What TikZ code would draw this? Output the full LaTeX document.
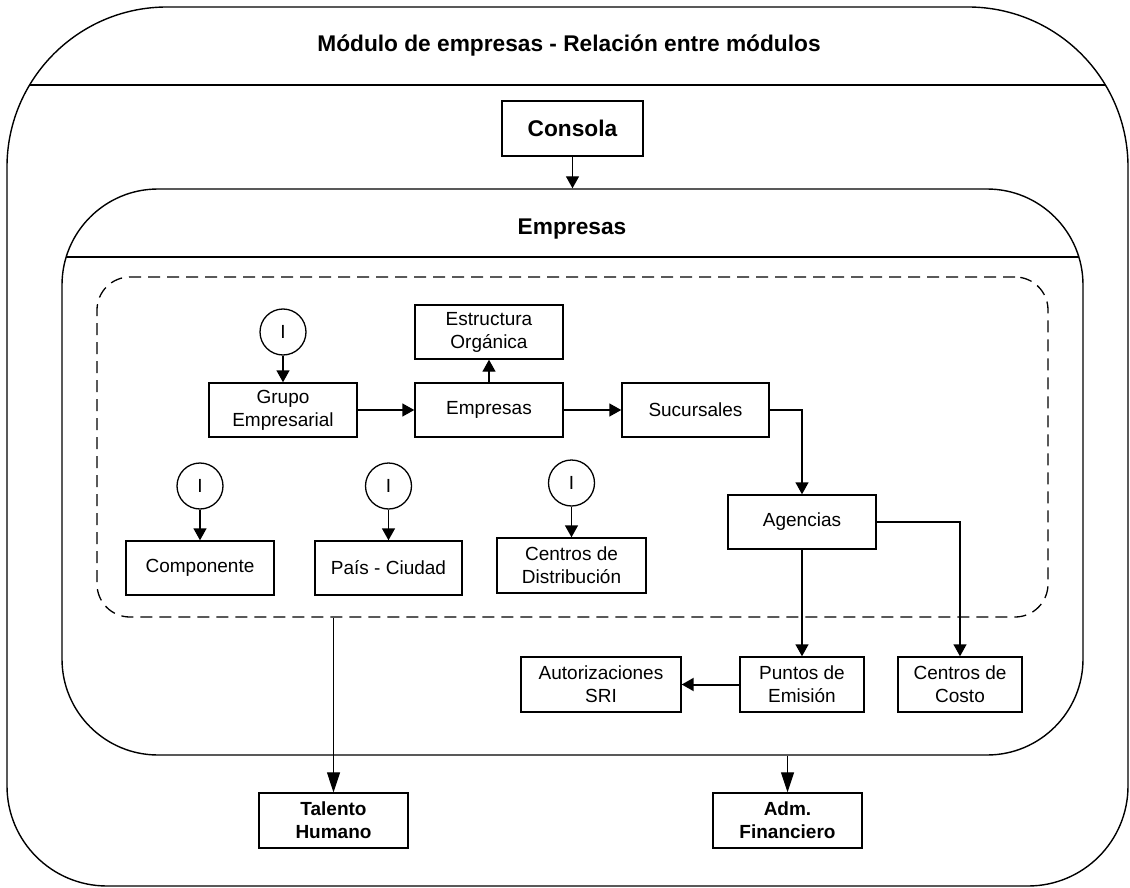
\documentclass[tikz,border=0pt]{standalone}
\usepackage{fontspec}
\setmainfont{Liberation Sans}
\usetikzlibrary{arrows.meta}

\begin{document}
\begin{tikzpicture}[x=1pt,y=-1pt,
  frame/.style={line width=1.4pt},
  box/.style={draw, line width=1.4pt, align=center, inner sep=0pt,
    font=\fontsize{19}{23}\selectfont},
  boldbox/.style={box, font=\fontsize{19}{23}\selectfont\bfseries},
  iface/.style={draw, circle, line width=1.3pt, minimum size=46pt, inner sep=0pt,
    font=\fontsize{19}{23}\selectfont},
  title/.style={font=\fontsize{22.7}{26}\selectfont\bfseries},
  link/.style={line width=1.4pt, -{Triangle[length=12pt,width=13pt]}},
  thinlink/.style={line width=1.1pt, -{Triangle[length=20pt,width=13pt]}}
]
\useasboundingbox (0,0) rectangle (1130,888);

% outer module frame: wide top corners, tighter bottom corners
\draw[frame] (7,450) [rounded corners=160pt] -- (7,7) -- (1128,7) -- (1128,450)
  [rounded corners=100pt] -- (1128,886) -- (7,886) -- cycle;
\draw[frame] (29.6,85) -- (1105.4,85);
\node[title] (ttl) at (569,46) {Módulo de empresas - Relación entre módulos};

% inner companies module
\node[draw, line width=1.4pt, rounded corners=96pt, minimum width=1021pt,
  minimum height=566pt, inner sep=0pt] (inner) at (572.5,472) {};
\draw[frame] (66.2,257) -- (1078.8,257);
\node[title] (emptitle) at (572,229) {Empresas};

% dashed grouping
\node[draw, line width=1.3pt, dash pattern=on 12pt off 7pt, rounded corners=33pt,
  minimum width=951pt, minimum height=340pt, inner sep=0pt] (group) at (572.5,447) {};

% console
\node[boldbox, font=\fontsize{22.7}{26}\selectfont\bfseries, minimum width=141pt,
  minimum height=55pt] (consola) at (572.5,128.5) {Consola};

% boxes inside the grouping
\node[box, minimum width=148pt, minimum height=54pt] (grupo) at (283,410) {Grupo\\Empresarial};
\node[box, minimum width=148pt, minimum height=54pt] (empresas) at (489,410) {Empresas};
\node[box, minimum width=148pt, minimum height=54pt] (estructura) at (489,332) {Estructura\\Orgánica};
\node[box, minimum width=147pt, minimum height=54pt] (sucursales) at (695.5,410) {Sucursales};
\node[box, minimum width=148pt, minimum height=54pt] (componente) at (200,568) {Componente};
\node[box, minimum width=147pt, minimum height=54pt] (pais) at (388.5,568) {País - Ciudad};
\node[box, minimum width=149pt, minimum height=55pt] (centrosdist) at (571.5,565.5) {Centros de\\Distribución};
\node[box, minimum width=148pt, minimum height=54pt] (agencias) at (802,522) {Agencias};

% interface markers
\node[iface] (i1) at (283,332) {I};
\node[iface] (i2) at (200,486) {I};
\node[iface] (i3) at (388.5,486) {I};
\node[iface] (i4) at (571.5,483) {I};

% boxes below the grouping
\node[box, minimum width=160pt, minimum height=55pt] (autoriz) at (601,684.5) {Autorizaciones\\SRI};
\node[box, minimum width=124pt, minimum height=55pt] (puntos) at (802,684.5) {Puntos de\\Emisión};
\node[box, minimum width=124pt, minimum height=55pt] (costo) at (960,684.5) {Centros de\\Costo};

% related modules
\node[boldbox, minimum width=149pt, minimum height=55pt] (talento) at (333.5,820.5) {Talento\\Humano};
\node[boldbox, minimum width=149pt, minimum height=55pt] (adm) at (787.5,820.5) {Adm.\\Financiero};

% connectors
\draw[link] (consola.south) -- (inner.north);
\draw[link] (i1.south) -- (grupo.north);
\draw[link] (i2.south) -- (componente.north);
\draw[link] (i3.south) -- (pais.north);
\draw[link] (i4.south) -- (centrosdist.north);
\draw[link] (grupo.east) -- (empresas.west);
\draw[link] (empresas.north) -- (estructura.south);
\draw[link] (empresas.east) -- (sucursales.west);
\draw[link] (sucursales.east) -| (agencias.north);
\draw[link] (agencias.south) -- (puntos.north);
\draw[link] (agencias.east) -| (costo.north);
\draw[link, line width=2pt] (puntos.west) -- (autoriz.east);
\draw[thinlink] (group.south -| talento.north) -- (talento.north);
\draw[thinlink] (inner.south -| adm.north) -- (adm.north);
\end{tikzpicture}
\end{document}
